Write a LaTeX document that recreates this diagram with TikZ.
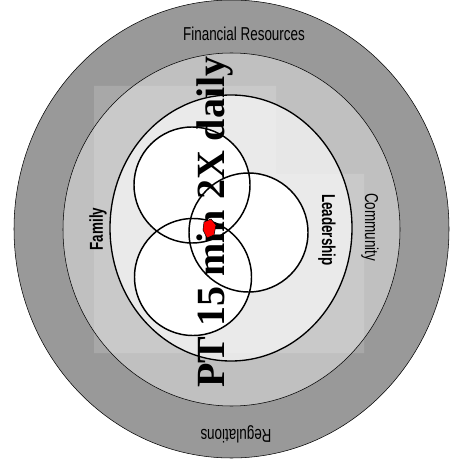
\documentclass[tikz,border=0pt]{standalone}
\usepackage{fontspec}
\setmainfont{Liberation Serif}
\newfontfamily\etiqueta[FakeStretch=0.72]{Liberation Sans}
\usetikzlibrary{positioning}
\definecolor{anilloext}{HTML}{999999}
\definecolor{anillomed}{HTML}{C0C0C0}
\definecolor{anilloint}{HTML}{E7E7E7}
\tikzset{
  borde/.style={draw=black,thin},
  bordeint/.style={draw=black,line width=1pt},
  venn/.style={draw=black,line width=1.1pt},
  etq/.style={font=\etiqueta\fontsize{14}{14}\selectfont,inner sep=0pt},
  etqb/.style={font=\etiqueta\bfseries\fontsize{14}{14}\selectfont,inner sep=0pt},
  titulo/.style={font=\bfseries\fontsize{30}{30}\selectfont,inner sep=0pt}
}
\begin{document}
\begin{tikzpicture}[x=0.75pt,y=-0.75pt]
\useasboundingbox (0,0) rectangle (450,466);
% anillos
\fill[anilloext] (231.5,229) ellipse [x radius=217.5, y radius=229];
\fill[anillomed] (231.5,229.5) ellipse [x radius=168.5, y radius=176.5];
\fill[anilloint] (231,228) ellipse [x radius=121, y radius=133];
% circulos
\fill[white] (192,185) circle [radius=58];
\fill[white] (193,277) circle [radius=58.5];
\fill[white] (248.5,232.5) circle [radius=59.5];
% recuadro claro
\fill[white,opacity=.15] (94,86) rectangle (276,353) (276,174) rectangle (364,353);
\draw[borde] (231.5,229) ellipse [x radius=217.5, y radius=229];
\draw[borde] (231.5,229.5) ellipse [x radius=168.5, y radius=176.5];
\draw[bordeint] (231,228) ellipse [x radius=121, y radius=133];
\draw[venn] (192,185) circle [radius=58];
\draw[venn] (193,277) circle [radius=58.5];
\draw[venn] (248.5,232.5) circle [radius=59.5];
% etiquetas
\node[etq] (fin) at (244,34) {Financial Resources};
\node[etq,rotate=180] (reg) at (236,434) {Regulations};
\node[etq,rotate=-90] (com) at (370,227) {Community};
\node[etqb,rotate=-90] (lid) at (327,230) {Leadership};
\node[etqb,rotate=90] (fam) at (98,229) {Family};
\node[titulo,rotate=90,anchor=base west] (pt) at (224,388) {PT 15 min 2X daily};
\filldraw[fill=red,draw=black,thin] (204,222) -- (211,219) -- (216,225) -- (214,235) -- (207,238) -- (203,230) -- cycle;
\end{tikzpicture}
\end{document}
